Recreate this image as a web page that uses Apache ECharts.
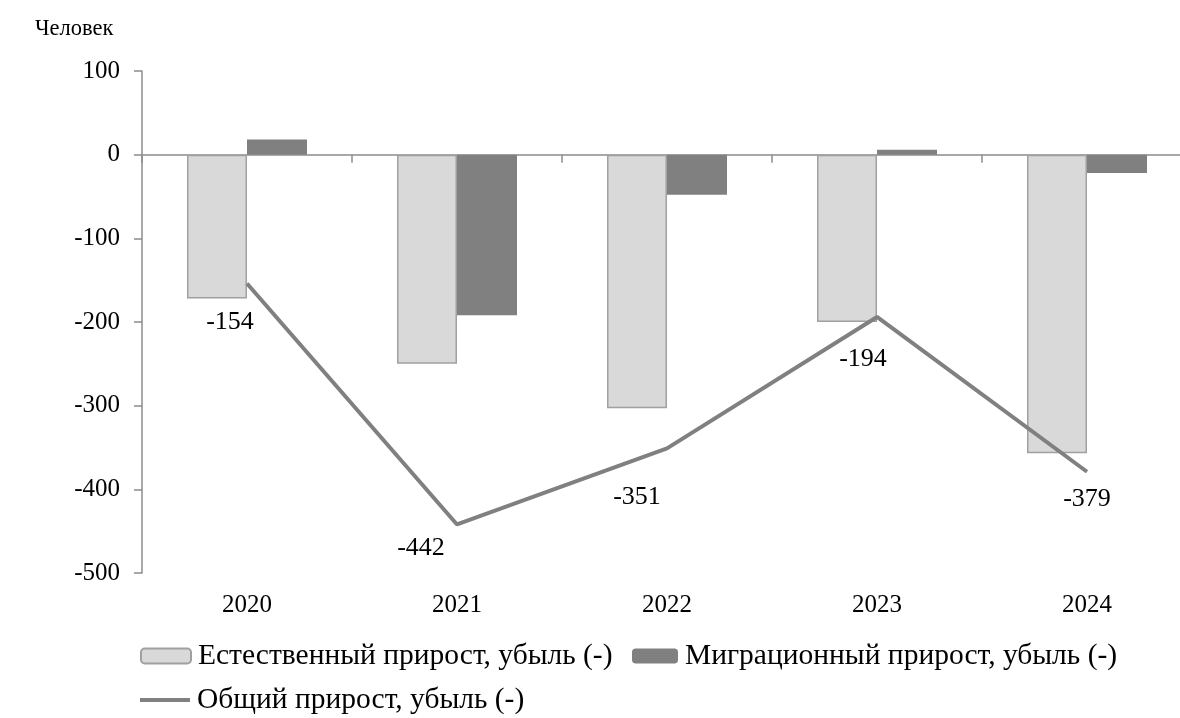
<!DOCTYPE html>
<html>
<head>
<meta charset="utf-8">
<script src="https://cdn.jsdelivr.net/npm/echarts@6/dist/echarts.min.js"></script>
<style>
html,body{margin:0;padding:0;background:#fff;overflow:hidden;}
#c{width:1192px;height:718px;}
</style>
</head>
<body>
<div id="c"></div>
<script>
const categories = ['2020', '2021', '2022', '2023', '2024'];
const naturalGrowth = [-172, -250, -303, -200, -357];
const migrationGrowth = [18, -192, -48, 6, -22];
const totalGrowth = [-154, -442, -351, -194, -379];
const yTicks = { min: -500, max: 100, interval: 100 };
const seriesNames = ['Естественный прирост, убыль (-)', 'Миграционный прирост, убыль (-)', 'Общий прирост, убыль (-)'];
const labelOffsets = [[-17, 39], [-36, 24], [-30, 49], [-14, 42], [0, 27]];

const FONT = '"Liberation Serif", "Times New Roman", serif';
const legendText = { fontFamily: FONT, fontSize: 29.5, color: '#000', padding: [0, 0, 0, 2], lineHeight: 30 };
const chart = echarts.init(document.getElementById('c'));
chart.setOption({
  animation: false,
  backgroundColor: '#fff',
  textStyle: { fontFamily: FONT },
  grid: { left: 142, right: 0, top: 71, height: 502, containLabel: false, outerBoundsMode: 'none' },
  legend: [
    { left: 140, top: 641, itemWidth: 50, itemHeight: 15, padding: 0, data: [{ name: seriesNames[0] }], textStyle: legendText },
    { left: 632, top: 641, itemWidth: 46, itemHeight: 15, padding: 0, data: [{ name: seriesNames[1] }], textStyle: legendText },
    { left: 140, top: 685, itemWidth: 50, itemHeight: 4, padding: 0, data: [{ name: seriesNames[2], icon: 'rect' }], textStyle: legendText }
  ],
  xAxis: {
    type: 'category',
    data: categories,
    axisLine: { onZero: true, lineStyle: { color: '#8c8c8c', width: 1.5 } },
    axisTick: { show: true, length: 8, lineStyle: { color: '#8c8c8c', width: 1.5 } },
    axisLabel: { show: false }
  },
  yAxis: {
    type: 'value',
    min: yTicks.min, max: yTicks.max, interval: yTicks.interval,
    name: 'Человек',
    nameLocation: 'end',
    nameGap: 30,
    nameTextStyle: { fontFamily: FONT, fontSize: 22.5, color: '#000', align: 'left', padding: [0, 0, 0, -107] },
    axisLine: { show: true, lineStyle: { color: '#8c8c8c', width: 1.5 } },
    axisTick: { show: true, length: 8, lineStyle: { color: '#8c8c8c', width: 1.5 } },
    axisLabel: { fontFamily: FONT, fontSize: 25, color: '#000', margin: 22 },
    splitLine: { show: false }
  },
  series: [
    {
      name: seriesNames[0], type: 'bar', data: naturalGrowth,
      barGap: '0%', barCategoryGap: '42.86%',
      itemStyle: { color: '#d9d9d9', borderColor: '#a0a0a0', borderWidth: 1.5 }
    },
    {
      name: seriesNames[1], type: 'bar', data: migrationGrowth,
      barGap: '0%', barCategoryGap: '42.86%',
      itemStyle: { color: '#808080' }
    },
    {
      name: seriesNames[2], type: 'line',
      data: totalGrowth.map((v, i) => ({ value: v, label: { offset: labelOffsets[i] } })),
      symbol: 'circle', symbolSize: 0.1,
      lineStyle: { color: '#808080', width: 4 },
      itemStyle: { color: '#808080' },
      label: { show: true, position: 'inside', fontFamily: FONT, fontSize: 26, color: '#000' },
      z: 5
    }
  ]
});

const xLabelsGraphic = categories.map((c) => {
  const p = chart.convertToPixel({ xAxisIndex: 0 }, c);
  return { type: 'text', x: p, y: 605, silent: true,
    style: { text: c, font: '25px ' + FONT, fill: '#000', align: 'center', verticalAlign: 'middle' } };
});
chart.setOption({ graphic: xLabelsGraphic });
</script>
</body>
</html>
